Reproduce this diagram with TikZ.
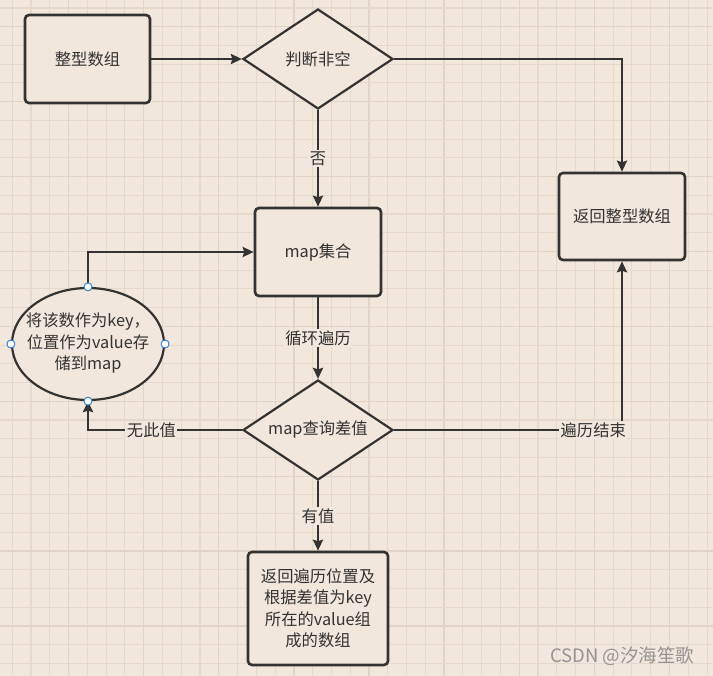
\documentclass[tikz,border=0pt]{standalone}
\usepackage{fontspec}
\setmainfont{Noto Sans CJK SC}
\usetikzlibrary{shapes.geometric,arrows.meta}
\definecolor{bgc}{RGB}{242,231,220}
\definecolor{minorc}{RGB}{229,217,205}
\definecolor{majorc}{RGB}{224,212,200}
\definecolor{linec}{RGB}{51,51,51}
\definecolor{txtc}{RGB}{51,51,51}
\definecolor{dotc}{RGB}{58,134,214}
\tikzset{
  boxnode/.style={draw=linec, line width=2.6pt, rounded corners=4pt, fill=bgc, text=txtc, align=center, inner sep=0pt},
  decision/.style={diamond, draw=linec, line width=2.2pt, fill=bgc, text=txtc, aspect=1.5, inner sep=0pt, minimum width=150pt, minimum height=100pt},
  conn/.style={draw=linec, line width=2.4pt, -{Stealth[length=11pt,width=10pt,inset=1.5pt]}},
  elabel/.style={fill=bgc, text=txtc, inner sep=1.5pt},
  cdot/.style={circle, draw=dotc, fill=white, line width=1pt, minimum size=8pt, inner sep=0pt},
}
\begin{document}
\begin{tikzpicture}[x=1pt,y=-1pt,font=\fontsize{16.3pt}{21.5pt}\selectfont]
\fill[bgc] (0,0) rectangle (713,676);
\useasboundingbox (0,0) rectangle (713,676);
% grid
\foreach \i in {0,...,37} {
  \pgfmathtruncatemacro{\m}{mod(\i,4)}
  \ifnum\m=3
    \draw[majorc, line width=1.3pt] ({12.2+18.78*\i},0) -- ++(0,676);
  \else
    \draw[minorc, line width=1.1pt] ({12.2+18.78*\i},0) -- ++(0,676);
  \fi
}
\foreach \i in {0,...,36} {
  \pgfmathtruncatemacro{\m}{mod(\i,4)}
  \ifnum\m=1
    \draw[majorc, line width=1.3pt] (0,{7.97+18.73*\i}) -- ++(713,0);
  \else
    \draw[minorc, line width=1.1pt] (0,{7.97+18.73*\i}) -- ++(713,0);
  \fi
}
% nodes
\node[boxnode, minimum width=125pt, minimum height=88pt] (arr) at (87.5,59) {整型数组};
\node[decision] (d1) at (318,59) {判断非空};
\node[boxnode, minimum width=126pt, minimum height=87pt] (ret) at (622,216.5) {返回整型数组};
\node[boxnode, minimum width=126pt, minimum height=88pt] (map) at (318,252) {map集合};
\node[decision] (d2) at (318,430) {map查询差值};
\node[ellipse, draw=linec, line width=2.2pt, fill=bgc, minimum width=152pt, minimum height=112pt, inner sep=0pt] (ell) at (88,344) {};
\node[text=txtc, align=center] (elltext) at (88,343) {将该数作为key，\\位置作为value存\\储到map};
\node[boxnode, minimum width=140pt, minimum height=113pt] (res) at (318,608.5) {返回遍历位置及\\根据差值为key\\所在的value组\\成的数组};
% connectors
\draw[conn] (arr.east) -- (d1.west);
\draw[conn] (d1.east) -| (ret.north);
\draw[conn] (d1.south) -- node[elabel] (l1) {否} (map.north);
\draw[conn] (map.south) -- node[elabel] (l2) {循环遍历} (d2.north);
\draw[conn] (d2.east) -| node[elabel, pos=0.437] (l3) {遍历结束} (ret.south);
\draw[conn] (d2.west) -| node[elabel, pos=0.294] (l4) {无此值} (ell.south);
\draw[conn] (ell.north) |- (map.west);
\draw[conn] (d2.south) -- node[elabel] (l5) {有值} (res.north);
% connection dots
\node[cdot] (p1) at (ell.north) {};
\node[cdot] (p2) at (ell.south) {};
\node[cdot] (p3) at (ell.east) {};
\node[cdot] (p4) at (ell.west) {};
% watermark
\node[text=black!42, anchor=east, font=\fontsize{18.5pt}{20pt}\selectfont] (wm) at (698,656) {CSDN @汐海笙歌};
\end{tikzpicture}
\end{document}
